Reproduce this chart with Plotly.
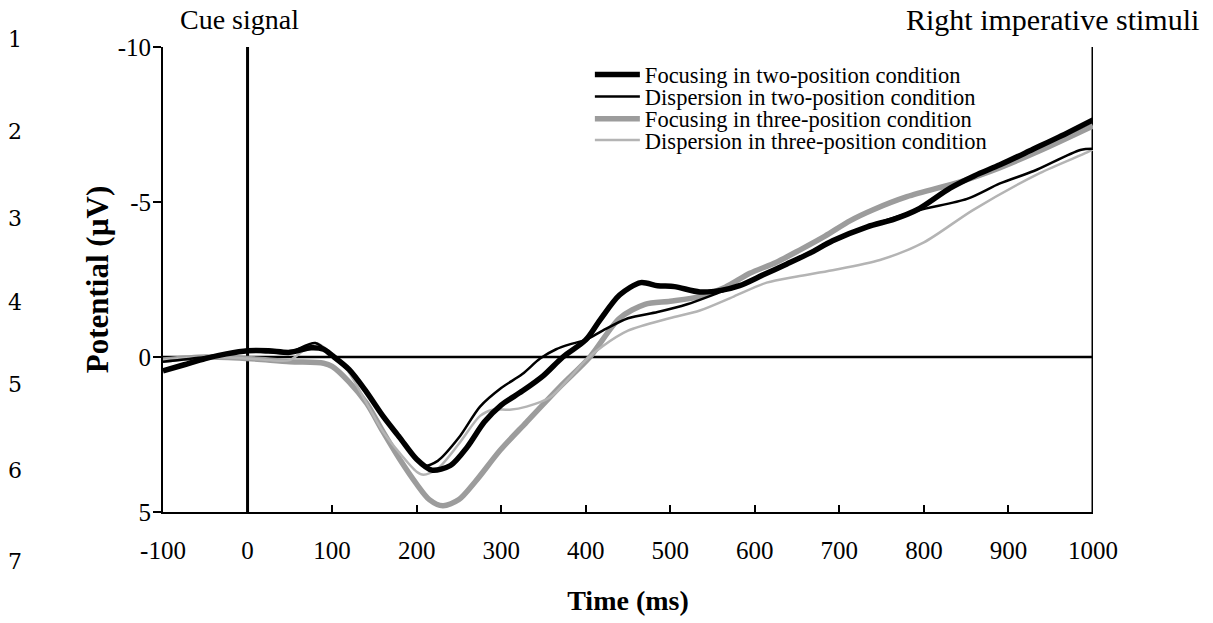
import plotly.graph_objects as go

# ---------------- data ----------------
series_names = [
    "Focusing in two-position condition",
    "Dispersion in two-position condition",
    "Focusing in three-position condition",
    "Dispersion in three-position condition",
]

focus2_t = [-100, -75, -50, -25, 0, 25, 50, 75, 90, 100, 120, 140, 160, 180, 200, 218, 240, 260, 280, 300,
            325, 350, 373, 400, 417, 440, 465, 485, 505, 535, 560, 582, 610, 638, 665, 692, 733, 765, 792,
            831, 860, 890, 929, 960, 1000]
focus2_v = [0.45, 0.25, 0.05, -0.1, -0.2, -0.2, -0.15, -0.3, -0.25, -0.05, 0.4, 1.1, 1.9, 2.6, 3.3, 3.65, 3.5,
            2.9, 2.1, 1.55, 1.1, 0.6, 0.0, -0.55, -1.2, -2.0, -2.4, -2.3, -2.27, -2.1, -2.15, -2.3, -2.65,
            -3.0, -3.35, -3.75, -4.2, -4.45, -4.75, -5.45, -5.85, -6.2, -6.7, -7.1, -7.65]

disp2_t = [-100, -50, 0, 25, 50, 80, 100, 120, 141, 160, 180, 208, 225, 250, 275, 300, 325, 346, 365, 380,
           400, 420, 450, 485, 520, 560, 600, 640, 690, 733, 792, 851, 890, 930, 985, 1000]
disp2_v = [0.15, 0.0, -0.2, -0.15, -0.15, -0.45, -0.05, 0.4, 1.15, 1.9, 2.6, 3.5, 3.35, 2.6, 1.6, 1.0, 0.55,
           0.05, -0.25, -0.4, -0.55, -0.85, -1.25, -1.45, -1.7, -2.1, -2.5, -3.05, -3.7, -4.2, -4.72, -5.1,
           -5.6, -6.0, -6.68, -6.72]

focus3_t = [-100, -50, 0, 50, 90, 100, 120, 141, 160, 180, 200, 215, 231, 250, 270, 299, 330, 370, 405, 440,
            470, 500, 535, 565, 594, 625, 653, 683, 713, 740, 780, 843, 880, 937, 1000]
focus3_v = [0.1, 0.0, 0.05, 0.15, 0.2, 0.3, 0.8, 1.5, 2.4, 3.3, 4.1, 4.6, 4.8, 4.6, 4.0, 3.0, 2.1, 0.95, 0.0,
            -1.25, -1.7, -1.8, -1.95, -2.25, -2.7, -3.05, -3.45, -3.9, -4.4, -4.75, -5.17, -5.65, -6.0,
            -6.65, -7.45]

disp3_t = [-100, -50, 0, 25, 50, 80, 100, 120, 141, 160, 180, 200, 208, 225, 250, 275, 290, 310, 330, 358,
           380, 400, 420, 450, 499, 535, 575, 614, 650, 692, 748, 800, 858, 937, 993, 1000]
disp3_v = [0.1, 0.0, 0.05, 0.1, 0.1, -0.45, -0.1, 0.5, 1.5, 2.4, 3.1, 3.7, 3.8, 3.6, 2.8, 1.9, 1.7, 1.7, 1.6,
           1.3, 0.7, 0.1, -0.35, -0.85, -1.25, -1.5, -1.95, -2.4, -2.6, -2.8, -3.13, -3.7, -4.74, -5.93,
           -6.6, -6.7]

x_ticks = [-100, 0, 100, 200, 300, 400, 500, 600, 700, 800, 900, 1000]
y_ticks = [-10, -5, 0, 5]
line_numbers = ["1", "2", "3", "4", "5", "6", "7"]

# ---------------- styles ----------------
SERIF = "Liberation Serif, Times New Roman, serif"
styles = [
    dict(color="#000000", width=5.5),
    dict(color="#000000", width=2.5),
    dict(color="#9c9c9c", width=5.5),
    dict(color="#b4b4b4", width=2.5),
]
legend_ids = ["legend", "legend2", "legend3", "legend4"]
legend_y = [0.94, 0.8925, 0.845, 0.799]

data_sets = [(focus2_t, focus2_v), (disp2_t, disp2_v), (focus3_t, focus3_v), (disp3_t, disp3_v)]
draw_order = [2, 3, 0, 1]

fig = go.Figure()
for i in draw_order:
    t, v = data_sets[i]
    fig.add_trace(go.Scatter(
        x=t, y=v, mode="lines", name=series_names[i],
        line=dict(color=styles[i]["color"], width=styles[i]["width"], shape="spline", smoothing=0.8),
        legend=legend_ids[i], showlegend=True,
    ))

layout_legends = {}
for i, lid in enumerate(legend_ids):
    layout_legends[lid] = dict(
        x=0.459, y=legend_y[i], xanchor="left", yanchor="middle",
        bgcolor="rgba(0,0,0,0)", borderwidth=0,
        font=dict(family=SERIF, size=22.5, color="#000"),
        itemwidth=45, tracegroupgap=0,
    )

fig.update_layout(
    width=1213, height=623,
    margin=dict(l=163, r=120, t=47, b=111),
    paper_bgcolor="white", plot_bgcolor="white",
    font=dict(family=SERIF, color="#000"),
    showlegend=True,
    **layout_legends,
)

fig.update_xaxes(
    range=[-100, 1000], tickvals=x_ticks, ticktext=[str(v) for v in x_ticks],
    ticks="inside", ticklen=7, tickwidth=1.5, tickcolor="#000", ticklabelstandoff=15,
    showline=True, linecolor="#000", linewidth=2, showgrid=False, zeroline=False,
    tickfont=dict(family=SERIF, size=25, color="#000"),
    title=dict(text="<b>Time (ms)</b>", font=dict(family=SERIF, size=28, color="#000"), standoff=27),
)
fig.update_yaxes(
    range=[5, -10], tickvals=y_ticks, ticktext=[str(v) for v in y_ticks],
    ticks="outside", ticklen=8, tickwidth=1.5, tickcolor="#000", ticklabelstandoff=-3,
    showline=True, linecolor="#000", linewidth=2, showgrid=False, zeroline=False,
    tickfont=dict(family=SERIF, size=25, color="#000"),
    title=dict(text="<b>Potential (µV)</b>", font=dict(family=SERIF, size=31, color="#000"), standoff=0),
)

# reference lines
fig.add_shape(type="line", xref="x", yref="y", x0=-100, x1=1000, y0=0, y1=0,
              line=dict(color="#000", width=2.5), layer="below")
fig.add_shape(type="line", xref="x", yref="paper", x0=0, x1=0, y0=0, y1=1,
              line=dict(color="#000", width=3), layer="below")
fig.add_shape(type="line", xref="x", yref="paper", x0=1000, x1=1000, y0=0, y1=1,
              line=dict(color="#000", width=3), layer="below")

# event labels
fig.add_annotation(text="Cue signal", xref="x", yref="paper", x=0, y=1.0, xshift=-8, yshift=28,
                   xanchor="center", yanchor="middle", showarrow=False,
                   font=dict(family=SERIF, size=28, color="#000"))
fig.add_annotation(text="Right imperative stimuli", xref="paper", yref="paper", x=1.0, y=1.0,
                   xshift=108, yshift=28, xanchor="right", yanchor="middle", showarrow=False,
                   font=dict(family=SERIF, size=30, color="#000"))

# manuscript line numbers
line_px = [40, 132, 218, 302, 385, 470, 561]
for lbl, py in zip(line_numbers, line_px):
    fig.add_annotation(text=lbl, xref="paper", yref="paper",
                       x=0, xshift=-148, y=(512 - py) / 465, xanchor="center", yanchor="middle",
                       showarrow=False, font=dict(family="DejaVu Serif", size=22, color="#000"))

fig.write_html("out.html")
